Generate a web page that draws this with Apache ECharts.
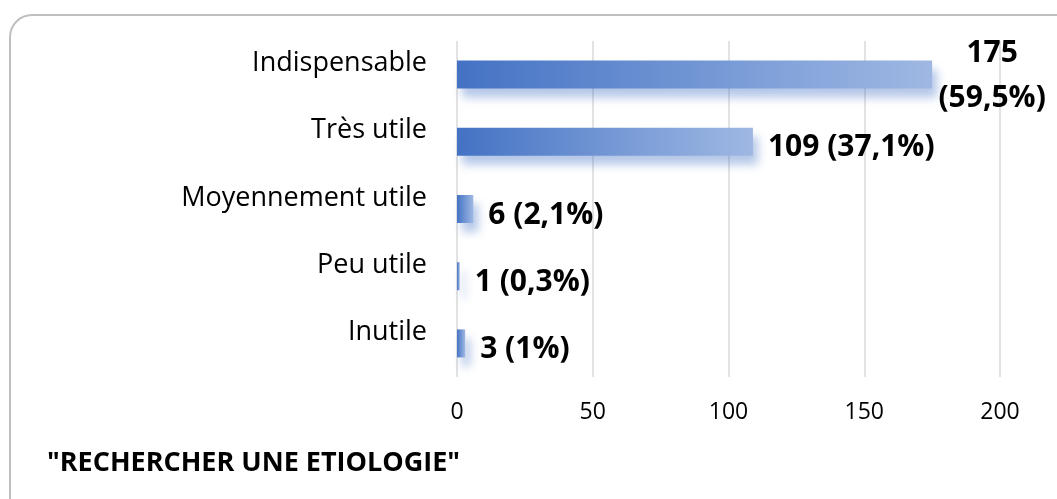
<!DOCTYPE html>
<html>
<head>
<meta charset="utf-8">
<script src="https://cdn.jsdelivr.net/npm/echarts@6/dist/echarts.min.js"></script>
<style>
  html, body { margin: 0; padding: 0; background: #fff; }
  #chart { width: 1057px; height: 499px; }
</style>
</head>
<body>
<div id="chart"></div>
<script>
// données
const categories = ['Indispensable', 'Très utile', 'Moyennement utile', 'Peu utile', 'Inutile'];
const counts = [175, 109, 6, 1, 3];
const percents = ['59,5%', '37,1%', '2,1%', '0,3%', '1%'];
const xTicks = [0, 50, 100, 150, 200];
const chartTitle = '"RECHERCHER UNE ETIOLOGIE"';

const FONT = 'Open Sans';

const chart = echarts.init(document.getElementById('chart'));

const barData = counts.map((v, i) => {
  const item = { value: v };
  if (i === 0) {
    // étiquette sur deux lignes pour la première barre
    item.label = {
      formatter: v + '\n(' + percents[i] + ')',
      align: 'center',
      offset: [45, 1],
      lineHeight: 45
    };
  }
  return item;
});

chart.setOption({
  animation: false,
  graphic: [
    {
      type: 'rect',
      shape: { x: 10, y: 15, width: 1090, height: 530, r: 22 },
      style: { fill: 'none', stroke: '#bfbfbf', lineWidth: 2 },
      z: -1
    },
    {
      type: 'text',
      left: 47,
      top: 450,
      style: { text: chartTitle, fontFamily: FONT, fontSize: 27, fontWeight: 'bold', fill: '#000' }
    }
  ],
  grid: { left: 457, right: 57, top: 41, bottom: 122, containLabel: false },
  xAxis: {
    type: 'value',
    min: xTicks[0],
    max: xTicks[xTicks.length - 1],
    interval: 50,
    axisLine: { show: false },
    axisTick: { show: false },
    splitLine: { lineStyle: { color: '#d9d9d9', width: 1.5 } },
    axisLabel: { color: '#000', fontFamily: FONT, fontSize: 23, margin: 24 }
  },
  yAxis: {
    type: 'category',
    inverse: true,
    data: categories,
    axisLine: { show: false },
    axisTick: { show: false },
    axisLabel: {
      color: '#000',
      fontFamily: FONT,
      fontSize: 27,
      margin: 30,
      verticalAlign: 'bottom',
      lineHeight: 22
    }
  },
  series: [{
    type: 'bar',
    data: barData,
    barWidth: 28,
    itemStyle: {
      color: new echarts.graphic.LinearGradient(0, 0, 1, 0, [
        { offset: 0, color: '#4472c4' },
        { offset: 0.6, color: '#7b9dd7' },
        { offset: 1, color: '#9fb8e3' }
      ]),
      shadowColor: 'rgba(68,114,196,0.4)',
      shadowBlur: 10,
      shadowOffsetX: 5,
      shadowOffsetY: 9
    },
    label: {
      show: true,
      position: 'right',
      distance: 15,
      offset: [0, 6],
      color: '#000',
      fontFamily: FONT,
      fontSize: 30,
      fontWeight: 'bold',
      formatter: p => p.value + ' (' + percents[p.dataIndex] + ')'
    }
  }]
});
</script>
</body>
</html>
